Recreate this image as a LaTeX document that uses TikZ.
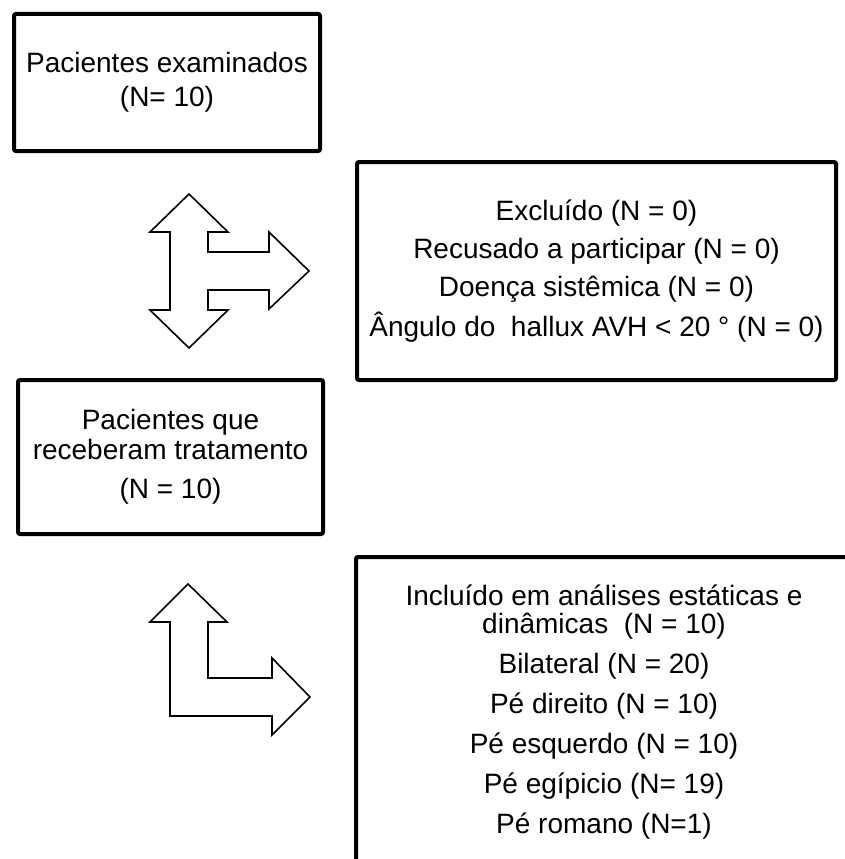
\documentclass[tikz,border=0pt]{standalone}
\usepackage{fontspec}
\setmainfont{Liberation Sans}
\tikzset{
  every picture/.style={line width=1.6pt},
  box/.style={draw=black, line width=4pt, rounded corners=2pt, align=center, inner sep=0pt, font=\fontsize{28}{30}\selectfont},
  blockarrow/.style={draw=black, fill=white, line width=1.6pt, line join=miter},
}

\begin{document}
\begin{tikzpicture}[x=1pt, y=-1pt]
  \useasboundingbox (0,0) rectangle (844,859);
  % boxes
  \node[box, minimum width=306pt, minimum height=137pt] (examinados) at (167,82.5) {Pacientes examinados\\[4pt](N= 10)};
  \node[box, minimum width=479pt, minimum height=218pt] (excluidos) at (596.5,271) {Excluído (N = 0)\\[8pt]Recusado a participar (N = 0)\\[8pt]Doença sistêmica (N = 0)\\[8pt]Ângulo do\ \ hallux AVH < 20 ° (N = 0)};
  \node[box, minimum width=305pt, minimum height=154pt] (tratados) at (170.5,457) {Pacientes que\\receberam tratamento\\[9pt](N = 10)};
  \node[box, minimum width=496pt, minimum height=311pt] (incluidos) at (604,712.5) {Incluído em análises estáticas e\\[-2pt]dinâmicas\ \ (N = 10)\\[10pt]Bilateral (N = 20)\\[10pt]Pé direito (N = 10)\\[10pt]Pé esquerdo (N = 10)\\[10pt]Pé egípicio (N= 19)\\[10pt]Pé romano (N=1)};
  % block arrows
  \draw[blockarrow] (189,194) -- (228,232) -- (208,232) -- (208,252) -- (269,252) -- (269,232) -- (309,271) -- (269,309) -- (269,290) -- (208,290) -- (208,310) -- (228,310) -- (189,348) -- (150,310) -- (170,310) -- (170,232) -- (150,232) -- cycle;
  \draw[blockarrow] (188,584) -- (227,622) -- (208,622) -- (208,678) -- (272,678) -- (272,658) -- (310,697) -- (272,735) -- (272,716) -- (170,716) -- (170,622) -- (150,622) -- cycle;
\end{tikzpicture}
\end{document}
